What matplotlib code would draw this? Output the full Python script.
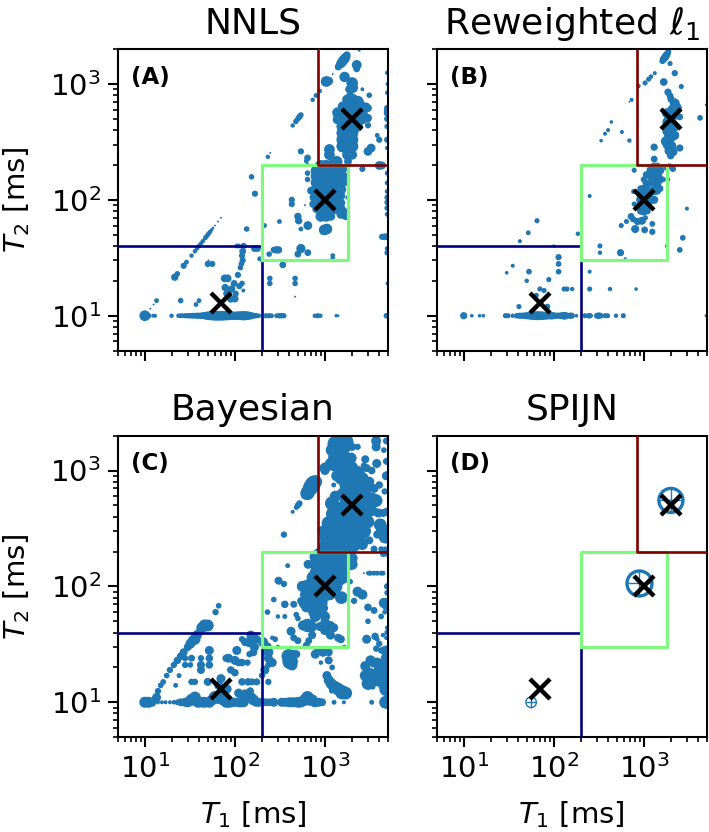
import matplotlib
matplotlib.use("Agg")
import matplotlib.pyplot as plt

# (T1, T2, weight)
nnls_pts = [
    (10, 10, 30), (11, 10, 8), (12.4, 10, 4), (13, 10, 4), (19.8, 10, 5), (23.6, 10, 5), (25, 10, 6), (26, 10, 6), (28, 10, 7),
    (30, 10, 8), (32, 10, 8), (34, 10, 9), (36, 10, 9), (38, 10, 10), (40, 10, 10), (43, 10, 12), (46, 10, 14),
    (49, 10, 18), (52, 10, 20), (55, 10, 22), (58, 10, 24), (61, 10, 24), (64, 10, 24), (67, 10, 24), (70, 10, 24),
    (74, 10, 24), (78, 10, 22), (82, 10, 22), (86, 10, 20), (90, 10, 20), (95, 10, 18), (100, 10, 18), (105, 10, 18),
    (110, 10, 20), (116, 10, 20), (122, 10, 22), (128, 10, 22), (135, 10, 20), (142, 10, 18), (150, 10, 14),
    (158, 10, 10), (166, 10, 8), (175, 10, 7), (185, 10, 5), (222, 10, 7), (240, 10, 7), (255, 10, 6), (290, 10, 6),
    (312, 10, 8), (330, 10, 8), (350, 10, 7), (770, 10, 5), (830, 10, 7), (890, 10, 5), (1330, 10, 3), (1400, 10, 2),
    (4800, 10, 8),
    (11.5, 11.5, 1), (12.5, 12.5, 1), (13.5, 13.5, 6), (21.5, 21.5, 14), (23, 23, 8), (27, 27, 10), (29, 29, 6),
    (33, 33, 5), (36, 36, 5), (38, 38, 5), (40, 40, 6), (42, 42, 5), (44, 44, 5), (47, 47, 6), (49, 49, 6), (51, 51, 6),
    (53, 53, 5), (55, 55, 3), (57, 57, 2), (60, 60, 1), (65, 65, 1), (70, 70, 1),
    (25, 13.5, 8), (37, 12.5, 6), (40, 13.5, 6), (50, 28, 10), (56, 28, 10), (51, 30, 1), (77, 21, 16), (83, 21, 16),
    (78, 17.5, 14), (82, 15.5, 16), (86, 16.5, 14), (90, 14, 16), (92, 17, 14), (98, 19, 12), (102, 15.5, 10),
    (100, 14, 14), (112, 18, 10), (120, 19, 8), (124, 16.5, 4), (108, 22.5, 10), (115, 26, 8), (118, 28, 8), (122, 30, 10),
    (120, 33, 10), (122, 36, 12), (105, 40, 6), (110, 40, 6), (125, 40, 10), (165, 38, 12), (178, 38, 12), (135, 56, 8),
    (153, 158, 8), (167, 113, 10), (213, 60, 6), (312, 65, 6), (232, 235, 5), (247, 254, 1), (188, 31, 6), (200, 30, 5),
    (270, 37, 10), (286, 37, 14), (305, 37, 14), (240, 34, 8), (340, 27.5, 12), (244, 21, 8), (244, 19, 8), (466, 21, 8),
    (466, 19, 8), (466, 14.6, 1),
    (428, 100, 10), (428, 92, 10), (600, 90, 1), (500, 72, 14), (510, 66, 14), (645, 60, 20), (540, 56, 6), (540, 38, 22),
    (500, 34, 12), (645, 35, 12), (1220, 31, 6), (1220, 33, 6), (980, 55, 30), (1050, 56, 30),
    # cluster at 1000/100
    (640, 150, 8), (640, 170, 8), (700, 120, 16), (740, 105, 14), (740, 92, 16), (795, 178, 30), (795, 160, 30),
    (795, 141, 30), (795, 123, 30), (795, 108, 30), (795, 94, 30), (795, 83, 14), (900, 195, 40), (900, 178, 40), (900, 160, 40),
    (900, 141, 40), (900, 123, 40), (900, 108, 40), (900, 94, 40), (900, 83, 30), (900, 72, 30), (1025, 195, 40), (1025, 178, 40),
    (1025, 160, 40), (1025, 141, 40), (1025, 123, 40), (1025, 108, 40), (1025, 94, 40), (1025, 83, 40), (1025, 72, 30),
    (1160, 195, 40), (1160, 178, 40), (1160, 160, 40), (1160, 141, 40), (1160, 123, 40), (1160, 108, 40), (1160, 94, 40),
    (1160, 83, 40), (1160, 72, 20), (1330, 178, 40), (1330, 160, 40), (1330, 141, 40), (1330, 123, 40), (1330, 108, 40),
    (1330, 94, 30), (1330, 83, 25), (1500, 178, 30), (1500, 160, 30), (1500, 141, 30), (1500, 123, 30), (1500, 108, 20),
    (1500, 94, 20), (1500, 83, 25), (1500, 75, 20), (1700, 190, 16), (1700, 160, 12), (1700, 141, 12), (1780, 105, 5),
    (1600, 78, 25), (1700, 73, 20),
    # upper diagonal
    (438, 438, 5), (475, 475, 8), (500, 500, 8), (520, 520, 10), (540, 540, 8), (730, 730, 5), (795, 795, 6), (870, 870, 6),
    (1220, 1220, 1), (1400, 1400, 12), (1450, 1450, 16), (1500, 1500, 22), (1550, 1550, 25), (1600, 1600, 25),
    (1650, 1650, 25), (1700, 1700, 22), (1750, 1780, 14),
    # cluster at 2000/500
    (1030, 1050, 30), (1100, 1060, 20), (1650, 1150, 28), (2000, 1020, 35), (2030, 930, 30), (1850, 900, 16), (1900, 800, 14), (2600, 900, 4), (3100, 800, 8),
    (2250, 1460, 25), (2250, 1350, 12), (2400, 1950, 2), (540, 262, 10), (640, 230, 12), (620, 216, 6), (640, 200, 4),
    (1120, 272, 30), (1120, 245, 30), (1350, 213, 35), (1030, 203, 16), (920, 200, 12), (4000, 198, 20), (4300, 198, 16),
    (2600, 185, 10), (3250, 280, 20), (3000, 262, 20), (4000, 330, 10), (3800, 360, 6), (1380, 565, 30), (1380, 495, 25),
    (1570, 640, 25), (1570, 565, 30), (1570, 495, 40), (1570, 430, 40), (1570, 378, 40), (1570, 330, 40), (1570, 290, 40),
    (1780, 730, 30), (1780, 640, 40), (1780, 565, 40), (1780, 495, 40), (1780, 430, 40), (1780, 378, 40), (1780, 330, 40),
    (1780, 290, 40), (1780, 245, 30), (2000, 730, 40), (2000, 640, 40), (2000, 565, 40), (2000, 495, 40), (2000, 430, 40),
    (2000, 378, 40), (2000, 330, 40), (2000, 290, 40), (2000, 245, 25), (1800, 215, 16), (2300, 700, 40), (2300, 640, 40),
    (2300, 565, 40), (2300, 495, 40), (2300, 430, 30), (2600, 640, 25), (2600, 565, 30), (2600, 495, 25), (2900, 650, 10),
    (3000, 620, 16), (3000, 510, 16), (3000, 440, 10), (3000, 500, 12),
    # right edge
    (4900, 1250, 5), (4900, 1000, 3), (4900, 840, 5), (4900, 620, 10), (4900, 590, 12), (4900, 560, 12), (4900, 500, 10),
    (4900, 430, 8), (4900, 330, 10), (4900, 280, 5), (4900, 170, 6), (4900, 140, 6), (4900, 118, 6), (4900, 105, 8), (4900, 95, 8),
    (4900, 85, 8), (4900, 75, 6), (4900, 48, 12), (4300, 48, 10), (4600, 48, 12), (4900, 38, 6), (4900, 35, 8), (4900, 19, 3),
]

rew_pts = [
    (10, 10, 16), (12.3, 10, 4), (15, 10, 4), (16.5, 10, 4), (29, 10, 8), (31, 10, 8), (35, 10, 6), (39, 10, 10), (42, 10, 12),
    (45, 10, 12), (48, 10, 14), (51, 10, 16), (54, 10, 18), (57, 10, 20), (60, 10, 22), (63, 10, 24), (66, 10, 24), (70, 10, 24),
    (74, 10, 22), (78, 10, 20), (82, 10, 18), (86, 10, 16), (90, 10, 16), (95, 10, 18), (100, 10, 14), (106, 10, 12), (112, 10, 12),
    (120, 10, 14), (128, 10, 18), (134, 10, 18), (150, 10, 12), (158, 10, 12), (178, 10, 4), (222, 10, 8), (245, 10, 10), (255, 10, 8),
    (300, 10, 10), (315, 10, 14), (330, 10, 10), (370, 10, 8), (395, 10, 8), (490, 10, 6), (590, 10, 8), (4900, 10, 3),
    (41, 12, 8), (85, 12, 10), (64, 15, 8), (78, 16.5, 8), (70, 17, 8), (130, 17, 8), (140, 17, 8), (160, 17, 6), (250, 17, 8),
    (420, 17, 6), (820, 17, 4), (88, 20.5, 8), (50, 20, 6), (53, 24, 10), (30, 23.5, 4), (35, 27, 5), (113, 24, 10),
    (113, 28, 10), (113, 32, 12), (100, 40, 3), (42, 44, 5), (52, 52, 7), (65, 66, 8), (185, 51, 6), (325, 40, 8), (325, 35, 6),
    (550, 35, 16), (620, 31, 3), (1800, 40, 5), (2500, 37, 10), (2700, 47, 10), (3000, 84, 5), (250, 24, 5),
    (250, 108, 5), (335, 324, 4), (370, 372, 5), (400, 400, 5), (435, 470, 4), (690, 325, 6), (730, 730, 5),
    (690, 700, 1), (570, 385, 5),
    # 1000/100 cluster
    (780, 180, 8), (770, 118, 8), (780, 92, 8), (560, 60, 8), (640, 65, 8), (720, 72, 14), (760, 68, 12), (800, 56, 20), (1040, 70, 8),
    (850, 65, 16), (950, 66, 20), (1020, 55, 14), (1240, 53, 12), (1240, 62, 10), (920, 125, 14), (920, 110, 20), (920, 100, 25), (920, 90, 25), (920, 80, 16),
    (1000, 125, 20), (1000, 110, 30), (1000, 100, 30), (1000, 90, 30), (1000, 80, 25), (1000, 150, 12), (1060, 165, 14), (1060, 140, 16), (1100, 125, 16),
    (1100, 110, 25), (1100, 100, 25), (1100, 90, 25), (1100, 80, 12), (1200, 180, 25), (1200, 160, 25), (1200, 140, 16),
    (1200, 115, 16), (1200, 100, 20), (1300, 190, 30), (1300, 165, 30), (1300, 140, 25), (1300, 120, 25), (1300, 100, 20), (1400, 190, 30),
    (1400, 165, 30), (1400, 140, 25), (1400, 120, 20), (1500, 180, 25), (1500, 150, 20), (1500, 125, 16), (1630, 150, 10),
    (1780, 190, 12), (1900, 195, 10), (1850, 150, 6),
    # 2000/500 cluster
    (870, 960, 6), (1130, 1100, 8), (1200, 1160, 6), (1030, 1020, 8), (1320, 1240, 5), (1610, 1580, 12), (1650, 1640, 16), (1700, 1680, 18),
    (1750, 1740, 18), (1800, 1800, 16), (1850, 1870, 12), (1900, 1950, 6), (1950, 1500, 8), (1660, 1040, 18), (2200, 1240, 12), (2600, 950, 8),
    (1850, 850, 16), (1950, 790, 14), (2000, 740, 16), (2200, 680, 30), (2300, 620, 35), (2100, 600, 35), (1800, 560, 30), (1900, 500, 30),
    (2000, 560, 35), (2200, 540, 30), (2500, 520, 14), (1800, 470, 25), (1900, 440, 30), (2000, 400, 30), (2100, 450, 30), (2200, 430, 30),
    (1800, 390, 25), (1900, 360, 30), (2000, 350, 35), (2200, 360, 25), (1750, 320, 30), (1850, 300, 35), (2000, 290, 35), (1900, 265, 25), (2100, 260, 25),
    (1300, 285, 16), (2500, 280, 16), (1300, 225, 14), (1980, 240, 16), (2100, 185, 12), (4200, 510, 10), (4900, 660, 2),
]

bayes_pts = [
    (10, 10, 30), (11, 10, 30), (12, 10, 20), (13.5, 11, 20), (14, 12.5, 10), (15, 14, 8), (16, 15, 8), (17.5, 17, 8), (19, 19, 10),
    (21, 21, 10), (23, 23, 14), (25, 25, 14), (27, 27, 16), (30, 30, 16), (32, 32, 24), (34, 34, 24), (36, 35, 30), (38, 38, 24),
    (40, 40, 16), (43, 44, 30), (46, 46, 35), (50, 46, 35), (66, 68, 8), (61, 60, 10), (22, 14, 6), (24, 17, 6),
    (14, 10, 4), (15.5, 10, 4), (17, 10, 4), (19, 10, 4), (21, 10, 5), (23, 10, 8),
    (33, 15, 10), (36, 15, 10), (28, 21, 10), (32, 21, 8), (28, 24, 10), (33, 24, 12), (42, 21, 16), (42, 19, 16), (42, 24, 10),
    (52, 21, 14), (52, 24, 14), (52, 28, 20), (85, 24, 20), (80, 24, 14), (100, 23, 20), (110, 22, 14), (120, 22, 14), (138, 22, 10),
    (90, 19, 14), (100, 18, 14), (70, 16, 20), (66, 14, 20), (50, 15, 16), (82, 13, 20), (120, 15, 14), (140, 15, 14),
    (155, 15, 12), (175, 15, 12), (130, 12, 14), (148, 12.5, 14), (110, 12, 20), (105, 28, 20), (120, 35, 10),
    (130, 33, 16), (145, 33, 25), (150, 38, 20), (160, 36, 25), (175, 35, 16), (188, 34, 8), (165, 30, 20), (160, 27, 16), (145, 26, 10),
    # T2 = 10 row
    (25, 10, 15), (28, 10, 20), (30, 10, 25), (33, 10.5, 35), (36, 11, 35), (39, 10, 30), (42, 10, 25), (45, 10, 30), (48, 10, 25), (52, 10, 30),
    (56, 10.5, 30), (60, 11, 40), (65, 11, 40), (70, 11, 40), (75, 10.5, 35), (80, 10, 30), (86, 10, 30), (92, 10, 25), (100, 10, 20),
    (106, 10, 20), (112, 10, 25), (118, 10, 25), (125, 10, 25), (130, 11, 30), (140, 11, 30), (150, 11, 30), (160, 10.5, 30), (172, 10, 20),
    (185, 10, 20), (205, 10, 15), (222, 10, 15), (245, 10, 15), (270, 10, 20), (330, 10, 20), (360, 10, 20), (400, 10, 25), (440, 10, 25),
    (480, 10, 25), (510, 10, 30), (550, 10, 25), (600, 10.5, 35), (640, 11, 40), (680, 10.5, 35), (720, 10.5, 30), (770, 10, 25), (840, 10, 20),
    (880, 10, 15), (930, 10, 15), (1260, 10, 6), (1620, 10, 4), (3300, 10, 6), (4700, 10, 40), (4900, 10, 40),
    # below green box
    (205, 33, 25), (225, 30, 25), (235, 27, 25), (235, 24, 20), (260, 22, 20), (235, 21, 10), (215, 19, 20), (200, 17, 10), (235, 15, 10),
    (300, 30, 5), (460, 25, 8), (440, 26, 20), (480, 26, 16), (395, 25, 50), (410, 22.5, 60), (430, 21, 30), (780, 26, 20),
    (850, 28, 20), (950, 27, 20), (1100, 27, 16), (1100, 23, 16), (1200, 20, 8), (900, 22, 5), (1050, 17, 20), (1100, 15.5, 25), (1170, 14.5, 30),
    (1280, 13.5, 40), (1400, 13, 40), (1550, 12.2, 50), (1700, 12, 40), (1180, 12.5, 6), (3400, 13.5, 6), (2800, 17, 30), (3100, 17, 60),
    (3400, 16, 70), (3000, 14.5, 40), (2800, 20.5, 25), (3200, 23, 25), (3500, 22, 25), (3800, 22, 25), (4000, 19, 30), (4200, 17, 50),
    (4400, 21, 30), (4600, 21, 40), (4800, 19, 50), (4700, 15, 50), (4800, 13, 50), (4300, 15, 40), (4900, 24, 40), (3700, 29, 10),
    (4200, 28, 10), (4500, 28, 16), (4800, 28, 25), (3800, 35, 6), (4400, 38, 5), (4800, 36, 5), (2900, 35, 20), (3600, 37, 14),
    (4900, 40, 8), (4900, 44, 5), (4000, 32, 10),
    # green box
    (385, 151, 6), (650, 155, 20), (350, 105, 10), (305, 112, 16), (270, 77, 8), (230, 60, 8), (300, 55, 5), (358, 70, 14), (358, 55, 6), (450, 70, 12),
    (480, 57, 8), (500, 53, 8), (540, 75, 14), (260, 36, 5), (280, 35, 8), (420, 41, 20), (450, 36, 12), (500, 34, 12), (570, 46, 25), (640, 46, 45), (700, 45, 35),
    (720, 38, 16), (660, 34, 12), (620, 31, 12), (880, 45, 20), (1000, 42, 25), (1150, 38, 20), (1400, 36, 16), (1640, 30, 5), (1150, 46, 20),
    (1000, 50, 20), (1250, 44, 20), (1520, 80, 40), (1700, 130, 10), (1800, 180, 10), (1900, 110, 8), (1500, 35, 16),
    (1000, 55, 25), (880, 60, 30), (780, 55, 30), (850, 70, 25), (950, 65, 25),
    # 1000/100 cluster
    (800, 180, 45), (800, 155, 45), (800, 130, 45), (800, 110, 45), (800, 95, 45), (800, 82, 45), (700, 105, 40), (700, 92, 40), (620, 100, 40),
    (560, 100, 30), (600, 85, 25), (600, 72, 40), (680, 85, 50), (680, 72, 45), (760, 72, 50), (700, 65, 25), (750, 60, 30), (780, 65, 30),
    (650, 88, 40), (640, 78, 45), (720, 80, 50), (720, 120, 30), (620, 66, 25),
    (900, 190, 50), (900, 165, 50), (900, 140, 50), (900, 120, 50), (900, 100, 50), (900, 85, 50), (900, 72, 45), (1000, 190, 50), (1000, 165, 50),
    (1000, 140, 50), (1000, 120, 50), (1000, 100, 50), (1000, 85, 50), (1150, 190, 50), (1150, 165, 50), (1150, 140, 50), (1150, 120, 50), (1150, 100, 50),
    (1150, 85, 30), (1300, 190, 50), (1300, 165, 50), (1300, 140, 50), (1300, 120, 50), (1300, 100, 50), (1450, 185, 50), (1450, 160, 50),
    (1450, 135, 50), (1450, 115, 40), (1600, 190, 50), (1600, 165, 50), (1600, 145, 50), (1600, 120, 40), (2000, 175, 30), (2000, 155, 30), (1850, 150, 20),
    (2300, 90, 25), (2600, 85, 25), (2100, 75, 10), (3000, 66, 14), (2700, 130, 1), (3200, 130, 6), (3500, 130, 6), (3800, 130, 6), (3100, 130, 6), (4200, 130, 6), (4400, 130, 6), (3000, 130, 4),
    (4200, 55, 8), (4800, 75, 8), (4500, 72, 25), (4800, 68, 20), (3500, 62, 12), (4600, 60, 6), (3000, 50, 8), (4900, 88, 8), (4900, 100, 10), (4900, 190, 5),
    # 2000/500 cluster
    (438, 440, 4), (480, 480, 6), (500, 500, 10), (520, 520, 10), (610, 620, 25), (640, 640, 50), (670, 680, 50), (700, 720, 60), (730, 760, 60), (760, 790, 50),
    (790, 800, 40), (350, 280, 10), (1000, 1000, 20), (1150, 1150, 30), (1300, 1300, 50), (1400, 1400, 70), (1500, 1500, 70), (1600, 1650, 70), (1700, 1750, 60), (1750, 1900, 30),
    (1000, 1050, 30), (1400, 1100, 40), (1500, 1250, 50), (1500, 1000, 40), (1700, 1250, 50), (1700, 1000, 50), (1700, 850, 40), (1700, 750, 40), (1500, 850, 35), (1250, 750, 6),
    (1950, 1280, 30), (1950, 1050, 50), (1950, 850, 50), (2300, 950, 50), (2300, 800, 50), (2300, 700, 50), (2600, 850, 40), (2650, 620, 50), (2000, 1600, 16),
    (2300, 1600, 10), (2800, 1250, 16), (2700, 1100, 10), (2900, 1050, 16), (3300, 1000, 14), (3700, 1800, 25), (3700, 1600, 20), (3750, 1150, 20), (4000, 750, 14), (4500, 1500, 8),
    (4800, 1800, 12), (4800, 1200, 12), (4800, 900, 20), (4600, 660, 10), (1150, 290, 40), (1000, 260, 30), (1000, 230, 30), (1150, 230, 30), (1300, 240, 30),
    (1350, 300, 50), (1500, 380, 60), (1500, 300, 70), (1650, 330, 80), (1650, 260, 80), (1650, 220, 60), (1400, 450, 70), (1600, 450, 80), (1800, 500, 80), (1900, 380, 80),
    (2100, 300, 80), (1950, 260, 60), (2100, 230, 50), (2000, 650, 60), (2300, 560, 80), (2500, 500, 80), (2600, 430, 80), (2300, 420, 90), (2200, 350, 70),
    (2800, 400, 40), (3300, 560, 50), (3700, 550, 40), (3500, 450, 14), (2950, 620, 16), (4100, 340, 40), (4400, 300, 50), (4700, 270, 50), (3800, 280, 16), (4400, 430, 16),
    (4800, 440, 16), (4700, 200, 25), (4200, 210, 8), (4400, 190, 8),
    (1250, 420, 60), (1200, 520, 50), (1100, 350, 50), (950, 300, 30), (1300, 600, 30), (1200, 1500, 40), (1300, 1700, 60), (1450, 1850, 50), (1250, 1100, 30),
    (1350, 900, 30), (1600, 620, 50), (1800, 680, 60), (2800, 700, 40), (3000, 500, 60), (3000, 360, 40), (2700, 300, 50), (2400, 260, 40),
    (3300, 450, 30), (3500, 700, 20), (3100, 800, 25), (3900, 430, 20), (2600, 230, 30), (3100, 250, 16), (3500, 210, 12), (950, 215, 25), (1050, 300, 35),
]

spijn_pts = [(893, 106, 324), (1995, 552, 300), (56, 10, 57)]

# markers: "true" T1/T2 of the three components
true_t1 = [70, 1000, 2000]
true_t2 = [13, 100, 500]

titles = ["NNLS", r"Reweighted $\ell_1$", "Bayesian", "SPIJN"]
letters = ["(A)", "(B)", "(C)", "(D)"]
size_scale = [2.0, 1.7, 2.1, 1]

fig, axes = plt.subplots(2, 2, figsize=(7.09, 8.32), dpi=100)
fig.subplots_adjust(left=0.166, right=0.997, top=0.941, bottom=0.114, hspace=0.282, wspace=0.18)

panels = [nnls_pts, rew_pts, bayes_pts, spijn_pts]
for i, ax in enumerate(axes.flat):
    t1 = [p[0] for p in panels[i]]
    t2 = [p[1] for p in panels[i]]
    w = [p[2] * size_scale[i] for p in panels[i]]
    if i == 3:
        ax.scatter(t1, t2, s=w, facecolors="none", edgecolors="C0", linewidths=[2.4, 2.4, 1], zorder=2)
        ax.scatter(t1, t2, s=w, marker="+", color="C0", linewidths=1, zorder=2)
    else:
        ax.scatter(t1, t2, s=w, color="C0", linewidths=0, zorder=2)

    # tissue boxes
    ax.plot([5, 200, 200], [40, 40, 5], color="navy", lw=1.9, zorder=3)
    ax.plot([200, 1800, 1800, 200, 200], [30, 30, 200, 200, 30], color="#80f880", lw=2.3, zorder=3)
    ax.plot([830, 830, 5000], [2000, 200, 200], color="maroon", lw=1.9, zorder=4)
    ax.plot(true_t1, true_t2, "x", color="k", ms=14.5, mew=3.2, zorder=5)

    ax.set_xscale("log")
    ax.set_yscale("log")
    ax.set_xlim(5, 5000)
    ax.set_ylim(5, 2000)
    ax.set_title(titles[i], fontsize=26, pad=11)
    ax.text(0.05, 0.885, letters[i], transform=ax.transAxes, fontsize=16.5, fontweight="bold")
    ax.tick_params(which="major", labelsize=21, length=7, width=1.5, pad=5)
    ax.tick_params(which="minor", length=3.6, width=1.2)
    for sp in ax.spines.values():
        sp.set_linewidth(1.5)
    if i in (0, 2):
        ax.set_ylabel(r"$T_2$ [ms]", fontsize=21, labelpad=13)
    else:
        ax.set_yticklabels([])
    if i in (2, 3):
        ax.set_xlabel(r"$T_1$ [ms]", fontsize=21, labelpad=11)
    else:
        ax.set_xticklabels([])

fig.savefig("out.png", dpi=100)
